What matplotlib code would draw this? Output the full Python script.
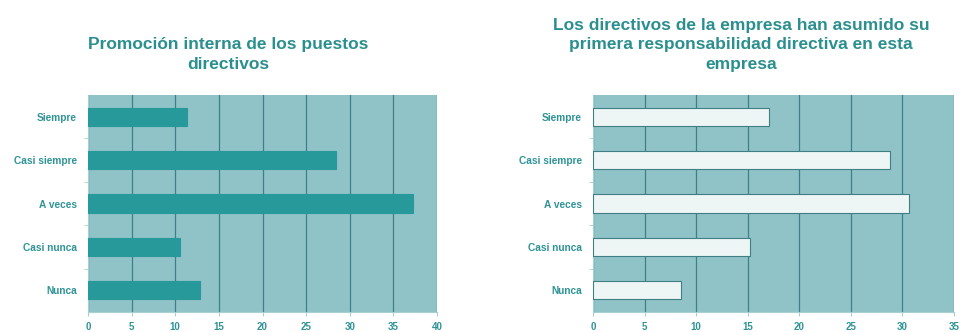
import numpy as np
import matplotlib.pyplot as plt

# Respuestas (número de empresas) por categoría
categorias = ['Siempre', 'Casi siempre', 'A veces', 'Casi nunca', 'Nunca']
promocion_interna = [11.4, 28.4, 37.3, 10.5, 12.8]
primera_responsabilidad = [17.1, 28.8, 30.6, 15.2, 8.5]

titulo_izq = 'Promoción interna de los puestos\ndirectivos'
titulo_der = ('Los directivos de la empresa han asumido su\n'
              'primera responsabilidad directiva en esta\nempresa')

TEAL = '#27999b'
FONDO = '#90c3c7'
REJILLA = '#3f8086'
TEXTO = '#2f9396'

plt.rcParams['font.family'] = ['Liberation Sans', 'DejaVu Sans']

fig = plt.figure(figsize=(9.64, 3.32), dpi=100)


def panel(rect, valores, xmax, color_barra, borde, titulo, titulo_x):
    ax = fig.add_axes(rect)
    ax.set_facecolor(FONDO)
    y = np.arange(len(categorias))
    ax.barh(y, valores, height=0.42, color=color_barra, edgecolor=borde,
            linewidth=0.8, zorder=3)
    ax.set_ylim(len(categorias) - 0.5, -0.5)
    ax.set_xlim(0, xmax)
    ax.set_xticks(np.arange(0, xmax + 1, 5))
    ax.set_yticks(y)
    ax.set_yticklabels(categorias)
    ax.set_yticks(np.arange(0.5, len(categorias) - 0.5, 1), minor=True)
    ax.grid(axis='x', color=REJILLA, linewidth=0.9, zorder=1)
    for s in ['top', 'right']:
        ax.spines[s].set_visible(False)
    ax.spines['left'].set_color('#a8cfd2')
    ax.spines['bottom'].set_color('#a8cfd2')
    ax.tick_params(axis='y', which='major', length=0, pad=8,
                   labelsize=7.3, labelcolor=TEXTO)
    ax.tick_params(axis='y', which='minor', length=3, color='#a8cfd2')
    ax.tick_params(axis='x', length=3, color='#a8cfd2', labelsize=7,
                   labelcolor=TEXTO, pad=4)
    for t in ax.get_xticklabels() + ax.get_yticklabels():
        t.set_fontweight('bold')
    fig.text(titulo_x, 1 - 72 / 332, titulo, ha='center', va='bottom',
             fontsize=12.5, fontweight='bold', color='#2b8f8f', linespacing=1.38)
    return ax


panel([88 / 964, 20 / 332, 349 / 964, 217 / 332], promocion_interna, 40,
      TEAL, TEAL, titulo_izq, 228 / 964)
panel([593 / 964, 20 / 332, 361 / 964, 217 / 332], primera_responsabilidad, 35,
      '#edf5f5', '#3f7f84', titulo_der, 741 / 964)

fig.savefig('out.png', dpi=100)
